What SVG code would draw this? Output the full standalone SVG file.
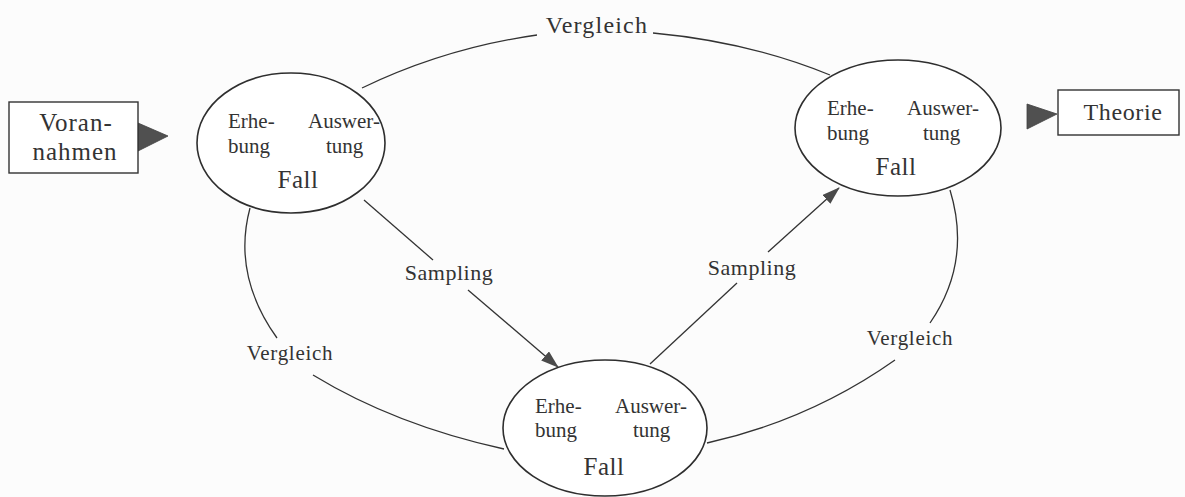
<svg xmlns="http://www.w3.org/2000/svg" width="1185" height="497" viewBox="0 0 1185 497">
  <style>
    text { font-family: "Liberation Serif", "DejaVu Serif", serif; fill: #333333; }
    .in { font-size: 21px; }
    .fall { font-size: 25px; letter-spacing: 0.5px; }
    .lbl { font-size: 22px; letter-spacing: 0.5px; }
    .side { font-size: 21px; letter-spacing: 0.7px; }
    .box { fill: #ffffff; stroke: #333333; stroke-width: 1.4; }
    .case { fill: #ffffff; stroke: #2e2e2e; stroke-width: 1.6; }
    .link { fill: none; stroke: #333333; stroke-width: 1.3; }
    .tri { fill: #505050; stroke: #404040; stroke-width: 0.8; }
  </style>
  <defs>
    <marker id="arrow" viewBox="0 0 18 12" refX="17" refY="6" markerWidth="18" markerHeight="12" markerUnits="userSpaceOnUse" orient="auto">
      <path d="M0,0 L18,6 L0,12 Z" fill="#4a4a4a"/>
    </marker>
  </defs>
  <rect width="1185" height="497" fill="#fcfcfc"/>

  <!-- connectors -->
  <g id="connectors">
    <!-- comparison arcs -->
    <path class="link" d="M362,88 Q445,48 537,35"/>
    <path class="link" d="M653,33 Q750,42 830,75"/>
    <path class="link" d="M250,208 Q232,275 277,338"/>
    <path class="link" d="M313,375 Q395,425 504,449"/>
    <path class="link" d="M950,190 Q972,262 930,323"/>
    <path class="link" d="M895,360 Q810,420 707,443"/>
    <!-- sampling arrows -->
    <path class="link" d="M364,200 L433,260"/>
    <path class="link" d="M468,290 L558,367" marker-end="url(#arrow)"/>
    <path class="link" d="M650,364 L737,283"/>
    <path class="link" d="M768,252 L839,188" marker-end="url(#arrow)"/>
    <!-- entry and exit pointers -->
    <polygon class="tri" points="138,123 138,151 168,136"/>
    <polygon class="tri" points="1027,104 1027,129 1057,114"/>
    <!-- arc labels -->
    <text x="597" y="33" text-anchor="middle" style="font-size:24px; letter-spacing:1.2px">Vergleich</text>
    <text class="side" x="290" y="360" text-anchor="middle">Vergleich</text>
    <text class="side" x="910" y="345" text-anchor="middle">Vergleich</text>
    <text class="lbl" x="449" y="280" text-anchor="middle">Sampling</text>
    <text class="lbl" x="752" y="275" text-anchor="middle">Sampling</text>
  </g>

  <!-- prior assumptions -->
  <g id="vorannahmen">
    <rect class="box" x="9" y="102" width="129" height="71"/>
    <text x="76" y="131" text-anchor="middle" style="font-size:25px; letter-spacing:1px">Voran-</text>
    <text x="75" y="160" text-anchor="middle" style="font-size:25px; letter-spacing:1px">nahmen</text>
  </g>

  <!-- theory -->
  <g id="theorie">
    <rect class="box" x="1058" y="90" width="121" height="45"/>
    <text x="1123" y="120" text-anchor="middle" style="font-size:24px; letter-spacing:0.6px">Theorie</text>
  </g>

  <!-- first case -->
  <g id="fall1">
    <ellipse class="case" cx="291" cy="143" rx="94" ry="70"/>
    <text class="in" x="228" y="128">Erhe-</text>
    <text class="in" x="308" y="128">Auswer-</text>
    <text class="in" x="228" y="153">bung</text>
    <text class="in" x="326" y="153">tung</text>
    <text class="fall" x="298" y="188" text-anchor="middle">Fall</text>
  </g>

  <!-- second case -->
  <g id="fall2">
    <ellipse class="case" cx="605" cy="428" rx="102" ry="68"/>
    <text class="in" x="535" y="413">Erhe-</text>
    <text class="in" x="615" y="413">Auswer-</text>
    <text class="in" x="535" y="437">bung</text>
    <text class="in" x="633" y="437">tung</text>
    <text class="fall" x="604" y="475" text-anchor="middle">Fall</text>
  </g>

  <!-- third case -->
  <g id="fall3">
    <ellipse class="case" cx="898" cy="128" rx="103" ry="68"/>
    <text class="in" x="827" y="115">Erhe-</text>
    <text class="in" x="907" y="115">Auswer-</text>
    <text class="in" x="827" y="140">bung</text>
    <text class="in" x="923" y="140">tung</text>
    <text class="fall" x="896" y="175" text-anchor="middle">Fall</text>
  </g>
</svg>
